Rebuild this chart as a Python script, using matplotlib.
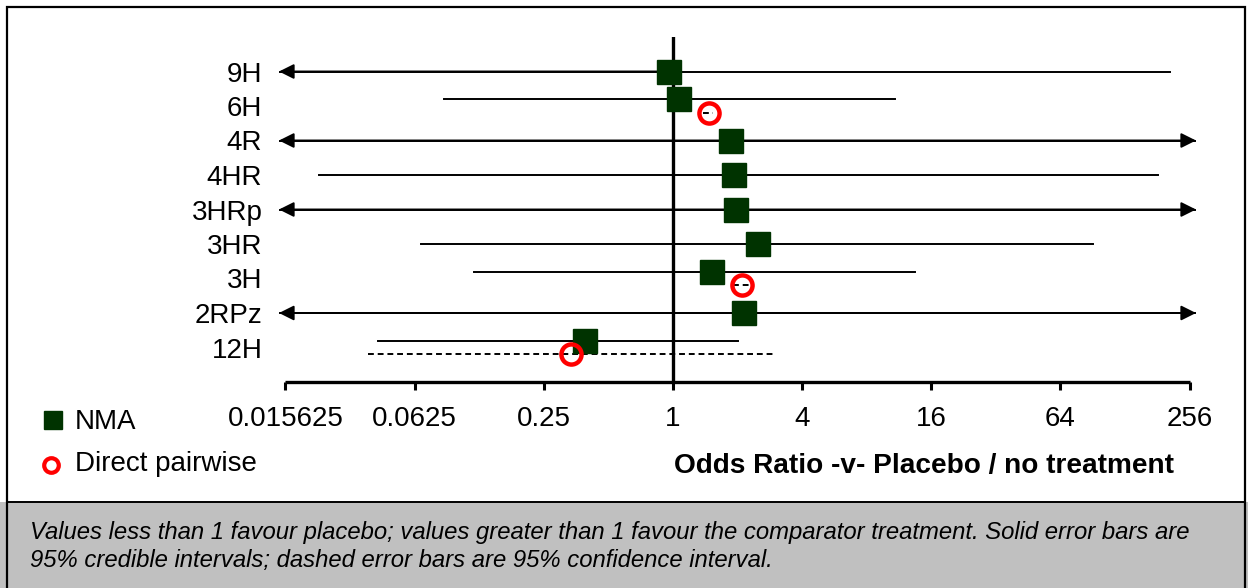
import numpy as np
import matplotlib
matplotlib.use('Agg')
import matplotlib.pyplot as plt
from matplotlib.patches import Rectangle

plt.rcParams['font.family'] = ['Liberation Sans', 'DejaVu Sans']

# data (odds ratios, nan = interval runs off the scale)
treatments = ['9H', '6H', '4R', '4HR', '3HRp', '3HR', '3H', '2RPz', '12H']
nma_or = [0.96, 1.07, 1.86, 1.92, 1.96, 2.50, 1.52, 2.14, 0.39]
nma_lo = [np.nan, 0.086, np.nan, 0.0224, np.nan, 0.067, 0.118, np.nan, 0.042]
nma_hi = [207, 10.8, np.nan, 182, np.nan, 90.5, 13.5, np.nan, 2.0]

direct_names = ['6H', '3H', '12H']
direct_or = [1.47, 2.09, 0.335]
direct_lo = [1.38, 1.90, 0.038]
direct_hi = [1.54, 2.30, 2.95]

xticks = [2.0 ** k for k in range(-6, 9, 2)]
xtick_labels = ['0.015625', '0.0625', '0.25', '1', '4', '16', '64', '256']

W, H = 1248, 588
fig = plt.figure(figsize=(W / 100, H / 100), dpi=100)

# background frame + grey caption panel
bg = fig.add_axes([0, 0, 1, 1])
bg.set_xlim(0, W)
bg.set_ylim(H, 0)
bg.axis('off')
bg.add_patch(Rectangle((0, 502), W, H - 502, facecolor='#c0c0c0', edgecolor='none'))
bg.plot([7, 7, 1245, 1245], [H, 7, 7, H], color='black', lw=1.6, solid_joinstyle='miter')
bg.plot([7, 1245], [502, 502], color='black', lw=1.4)

# legend
bg.plot([53], [420], marker='s', ms=13, color='#003300', mec='#003300')
bg.text(75, 422, 'NMA', fontsize=20, va='center', ha='left')
bg.plot([51], [465], marker='o', ms=10.5, mfc='white', mec='red', mew=3)
bg.text(75, 464, 'Direct pairwise', fontsize=20, va='center', ha='left')

# axis title and caption
bg.text(924, 466, 'Odds Ratio -v- Placebo / no treatment', fontsize=20.2,
        fontweight='bold', ha='center', va='center')
bg.text(30, 533, 'Values less than 1 favour placebo; values greater than 1 favour the '
        'comparator treatment. Solid error bars are', fontsize=17.2, style='italic',
        ha='left', va='center')
bg.text(30, 560, '95% credible intervals; dashed error bars are 95% confidence interval.',
        fontsize=17.2, style='italic', ha='left', va='center')

# forest plot
x0, x1, y0, y1 = 279, 1196, 37, 382
ax = fig.add_axes([x0 / W, 1 - y1 / H, (x1 - x0) / W, (y1 - y0) / H])
ax.set_facecolor('none')
ax.set_xscale('log', base=2)
xmin, xmax = 2 ** -6.1, 2 ** 8.1
ax.set_xlim(xmin, xmax)
ax.set_ylim(-1, 9)

rows = {name: 8 - i for i, name in enumerate(treatments)}
arrow = dict(arrowstyle='-|>,head_length=0.6,head_width=0.3', mutation_scale=15,
             color='black', lw=1.4, shrinkA=0, shrinkB=0)

for name, est, lo, hi in zip(treatments, nma_or, nma_lo, nma_hi):
    y = rows[name] + (0.2 if name in direct_names else 0)
    left = xmin if np.isnan(lo) else lo
    right = xmax if np.isnan(hi) else hi
    ax.plot([left, right], [y, y], color='black', lw=1.4, zorder=2)
    if np.isnan(lo):
        ax.annotate('', xy=(xmin, y), xytext=(est, y), arrowprops=arrow, zorder=2)
    if np.isnan(hi):
        ax.annotate('', xy=(xmax, y), xytext=(est, y), arrowprops=arrow, zorder=2)
    ax.plot([est], [y], marker='s', ms=17, color='#003300', mec='#003300', zorder=4)

for name, est, lo, hi in zip(direct_names, direct_or, direct_lo, direct_hi):
    y = rows[name] - 0.2
    ax.plot([lo, hi], [y, y], color='black', lw=1.4, ls=(0, (3, 2)), zorder=2)
    ax.plot([est], [y], marker='o', ms=14.5, mfc='none', mec='red', mew=3.2, zorder=5)

ax.axvline(1, color='black', lw=2.4, zorder=3)

for s in ['top', 'right', 'left']:
    ax.spines[s].set_visible(False)
ax.spines['bottom'].set_linewidth(2.4)
ax.spines['bottom'].set_bounds(2 ** -6, 2 ** 8)
ax.spines['bottom'].set_capstyle('butt')

ax.set_xticks(xticks)
ax.set_xticklabels(xtick_labels)
ax.xaxis.set_minor_locator(matplotlib.ticker.NullLocator())
ax.tick_params(axis='x', direction='out', length=6, width=2.2, labelsize=20, pad=11)

ax.set_yticks([rows[n] for n in treatments])
ax.set_yticklabels(treatments)
ax.tick_params(axis='y', length=0, labelsize=20, pad=12)

fig.savefig('out.png', dpi=100)
